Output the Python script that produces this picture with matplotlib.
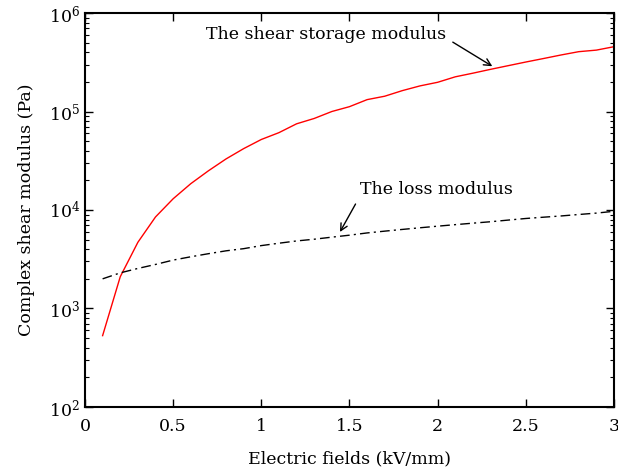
import matplotlib
matplotlib.use("Agg")
from matplotlib import pyplot as plt

# electric field (kV/mm)
field = [0.1, 0.2, 0.3, 0.4, 0.5, 0.6, 0.7, 0.8, 0.9, 1.0,
         1.1, 1.2, 1.3, 1.4, 1.5, 1.6, 1.7, 1.8, 1.9, 2.0,
         2.1, 2.2, 2.3, 2.4, 2.5, 2.6, 2.7, 2.8, 2.9, 3.0]

# shear storage modulus (Pa)
storage = [530, 2100, 4700, 8500, 13000, 18500, 25000, 33000, 42000, 52000,
           61000, 75000, 85000, 100000, 112000, 132000, 143000, 163000, 182000, 198000,
           225000, 245000, 268000, 292000, 318000, 345000, 375000, 405000, 420000, 455000]

# loss modulus (Pa)
loss = [2000, 2300, 2550, 2800, 3100, 3350, 3600, 3850, 4050, 4350,
        4600, 4850, 5050, 5300, 5550, 5850, 6100, 6350, 6600, 6850,
        7100, 7350, 7600, 7900, 8200, 8450, 8700, 9000, 9300, 9700]

xtick_vals = [0, 0.5, 1, 1.5, 2, 2.5, 3]
xtick_labels = ["0", "0.5", "1", "1.5", "2", "2.5", "3"]

plt.rcParams['font.family'] = ['DejaVu Serif']
plt.rcParams['mathtext.fontset'] = 'dejavuserif'
plt.rcParams['font.size'] = 12.5

fig = plt.figure(figsize=(6.18, 4.75), dpi=100)
ax = fig.add_axes([0.1375, 0.1432, 0.856, 0.8294])

ax.semilogy(field, storage, color="red", lw=1)
ax.semilogy(field, loss, color="black", lw=1, dashes=(7, 3, 1.5, 3))

ax.set_xlim(0, 3)
ax.set_ylim(1e2, 1e6)
ax.set_xticks(xtick_vals, xtick_labels)

ax.tick_params(which="both", direction="in", top=True, right=True)
ax.tick_params(which="major", length=6, width=1)
ax.tick_params(which="minor", length=3, width=0.8)
ax.tick_params(axis="x", pad=8)
for s in ax.spines.values():
    s.set_linewidth(1.5)

ax.set_xlabel("Electric fields (kV/mm)", labelpad=11)
ax.set_ylabel("Complex shear modulus (Pa)", labelpad=10)

ax.annotate("The shear storage modulus", xy=(2.31, 2.88e5), xytext=(2.05, 6.0e5),
            ha="right", va="center",
            arrowprops=dict(arrowstyle="->", color="black", lw=1,
                            relpos=(1.0, 0.3), shrinkA=3, shrinkB=0))
ax.annotate("The loss modulus", xy=(1.446, 5980), xytext=(1.56, 1.63e4),
            ha="left", va="center",
            arrowprops=dict(arrowstyle="->", color="black", lw=1,
                            relpos=(0.0, 0.1), shrinkA=3, shrinkB=0))

fig.savefig("out.png", dpi=100)
